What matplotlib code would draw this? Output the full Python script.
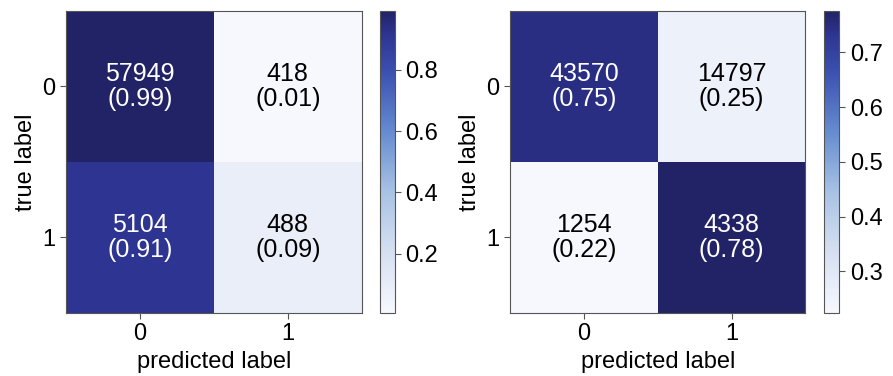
import numpy as np
import matplotlib
matplotlib.use("Agg")
import matplotlib.pyplot as plt
from matplotlib.colors import LinearSegmentedColormap

# Datos de las dos matrices de confusión
class_labels = ["0", "1"]
cm_left = np.array([[57949, 418],
                    [5104, 488]])
cm_right = np.array([[43570, 14797],
                     [1254, 4338]])
cbar_ticks_left = [0.2, 0.4, 0.6, 0.8]
cbar_ticks_right = [0.3, 0.4, 0.5, 0.6, 0.7]

plt.rcParams['font.family'] = ['Liberation Sans', 'DejaVu Sans']

# Mapa de color tipo "Blues" que termina en azul marino
cmap = LinearSegmentedColormap.from_list("azules", [
    (0.0, "#f6f8fe"), (0.2, "#d6e0f2"), (0.4, "#a8c2e4"),
    (0.6, "#658cd0"), (0.8, "#3b50b0"), (0.92, "#2e3592"), (1.0, "#222366")])


def dibujar(fig, rect, rect_cb, cm, ticks_cb):
    norm_cm = cm / cm.sum(axis=1, keepdims=True)
    ax = fig.add_axes(rect)
    im = ax.imshow(norm_cm, cmap=cmap, vmin=norm_cm.min(), vmax=norm_cm.max(),
                   aspect='auto')
    umbral = (norm_cm.max() + norm_cm.min()) / 2
    for i in range(cm.shape[0]):
        for j in range(cm.shape[1]):
            color = "white" if norm_cm[i, j] > umbral else "black"
            ax.text(j, i, f"{cm[i, j]}\n({norm_cm[i, j]:.2f})", ha='center',
                    va='center', color=color, fontsize=18, linespacing=1.05)
    ax.set_xticks(range(len(class_labels)))
    ax.set_yticks(range(len(class_labels)))
    ax.set_xticklabels(class_labels)
    ax.set_yticklabels(class_labels)
    ax.tick_params(labelsize=17, length=4, color="#555555")
    ax.set_xlabel("predicted label", fontsize=17, labelpad=4)
    ax.set_ylabel("true label", fontsize=17)
    for s in ax.spines.values():
        s.set_color("#555555")
    cax = fig.add_axes(rect_cb)
    cb = fig.colorbar(im, cax=cax, ticks=ticks_cb)
    cb.ax.tick_params(labelsize=17, length=4, color="#555555")
    cb.outline.set_edgecolor("#555555")
    cb.ax.set_yticklabels([f"{t:.1f}" for t in ticks_cb])


fig = plt.figure(figsize=(8.93, 3.76), dpi=100)
dibujar(fig, [0.074, 0.168, 0.331, 0.803], [0.425, 0.168, 0.017, 0.803],
        cm_left, cbar_ticks_left)
dibujar(fig, [0.571, 0.168, 0.331, 0.803], [0.923, 0.168, 0.017, 0.803],
        cm_right, cbar_ticks_right)
fig.savefig("out.png", dpi=100)
